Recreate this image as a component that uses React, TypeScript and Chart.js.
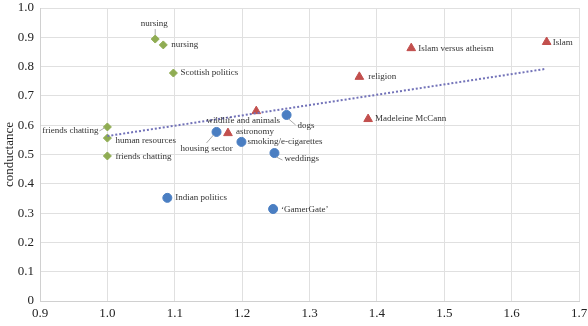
import React, { useEffect, useRef } from "react";
import { Chart, registerables } from "chart.js";

Chart.register(...registerables);

const diamondLabels = ["nursing", "nursing", "Scottish politics", "friends chatting", "human resources", "friends chatting"];
const diamondX = [1.071, 1.083, 1.098, 1.0, 1.0, 1.0];
const diamondY = [0.894, 0.874, 0.778, 0.594, 0.556, 0.495];

const circleLabels = ["dogs", "housing sector", "smoking/e-cigarettes", "weddings", "Indian politics", "\u2018GamerGate\u2019"];
const circleX = [1.266, 1.162, 1.199, 1.248, 1.089, 1.246];
const circleY = [0.635, 0.577, 0.543, 0.505, 0.352, 0.314];

const triangleLabels = ["wildlife and animals", "astronomy", "religion", "Madeleine McCann", "Islam versus atheism", "Islam"];
const triangleX = [1.221, 1.179, 1.374, 1.387, 1.451, 1.652];
const triangleY = [0.648, 0.573, 0.765, 0.621, 0.863, 0.884];

const trendX = [1.0, 1.65];
const trendY = [0.563, 0.792];

// label placement styles: [dx, dy, align, leader?]
type Place = { dx: number; dy: number; align: CanvasTextAlign; leader?: [number, number, number, number] };
const diamondPlace: Place[] = [
  { dx: -1, dy: -15, align: "center", leader: [0, -4, 0, -10] },
  { dx: 8, dy: 0, align: "left" },
  { dx: 7, dy: 0, align: "left" },
  { dx: -9, dy: 4, align: "right", leader: [-3, 1, -8, 4] },
  { dx: 8, dy: 3, align: "left" },
  { dx: 8, dy: 1, align: "left" },
];
const circlePlace: Place[] = [
  { dx: 11, dy: 11, align: "left", leader: [2, 4, 9, 10] },
  { dx: -10, dy: 17, align: "center", leader: [-3, 3, -10, 11] },
  { dx: 6, dy: 0, align: "left" },
  { dx: 10, dy: 6, align: "left", leader: [2, 4, 8, 7] },
  { dx: 8, dy: 0, align: "left" },
  { dx: 8, dy: 1, align: "left" },
];
const trianglePlace: Place[] = [
  { dx: -13, dy: 10, align: "center" },
  { dx: 8, dy: -1, align: "left" },
  { dx: 9, dy: 0, align: "left" },
  { dx: 7, dy: 0, align: "left" },
  { dx: 7, dy: 0, align: "left" },
  { dx: 6, dy: 1, align: "left" },
];

const labelSets = [
  { ds: 1, labels: diamondLabels, place: diamondPlace },
  { ds: 2, labels: circleLabels, place: circlePlace },
  { ds: 3, labels: triangleLabels, place: trianglePlace },
];

const yTitle = "conductance";
const serif = "'Liberation Serif', 'Times New Roman', serif";

const toPts = (xs: number[], ys: number[]) => xs.map((x, i) => ({ x, y: ys[i] }));

const labelPlugin = {
  id: "pointLabels",
  afterDatasetsDraw(chart: any) {
    const ctx = chart.ctx;
    ctx.save();
    ctx.font = `9px ${serif}`;
    ctx.fillStyle = "#333";
    ctx.textBaseline = "middle";
    ctx.strokeStyle = "#aaaaaa";
    ctx.lineWidth = 1;
    for (const set of labelSets) {
      const meta = chart.getDatasetMeta(set.ds);
      meta.data.forEach((el: any, i: number) => {
        const p = set.place[i];
        if (p.leader) {
          ctx.beginPath();
          ctx.moveTo(el.x + p.leader[0], el.y + p.leader[1]);
          ctx.lineTo(el.x + p.leader[2], el.y + p.leader[3]);
          ctx.stroke();
        }
        ctx.textAlign = p.align;
        ctx.fillText(set.labels[i], el.x + p.dx, el.y + p.dy);
      });
    }
    // y axis title
    const area = chart.chartArea;
    ctx.translate(10, (area.top + area.bottom) / 2);
    ctx.rotate(-Math.PI / 2);
    ctx.font = `13px ${serif}`;
    ctx.fillStyle = "#222";
    ctx.textAlign = "center";
    ctx.fillText(yTitle, 0, 0);
    ctx.restore();
  },
};

const zeroPad = (s: any) => {
  s.paddingTop = 0;
  s.paddingBottom = 0;
  s.paddingLeft = 0;
  s.paddingRight = 0;
};

export default function App() {
  const ref = useRef<HTMLCanvasElement>(null);
  useEffect(() => {
    if (!ref.current) return;
    const chart = new Chart(ref.current, {
      type: "scatter",
      data: {
        datasets: [
          {
            type: "line",
            data: toPts(trendX, trendY),
            borderColor: "#7272b8",
            borderWidth: 2,
            borderDash: [2, 2],
            pointRadius: 0,
            fill: false,
          } as any,
          {
            data: toPts(diamondX, diamondY),
            pointStyle: "rectRot",
            pointRadius: 4,
            backgroundColor: "#8fac52",
            borderColor: "#8fac52",
          },
          {
            data: toPts(circleX, circleY),
            pointStyle: "circle",
            pointRadius: 4.5,
            backgroundColor: "#4a7ec2",
            borderColor: "#4a7ec2",
          },
          {
            data: toPts(triangleX, triangleY),
            pointStyle: "triangle",
            pointRadius: 5,
            backgroundColor: "#c24f4d",
            borderColor: "#c24f4d",
          },
        ],
      },
      options: {
        animation: false,
        responsive: false,
        maintainAspectRatio: false,
        layout: { padding: { top: 8, right: 9, left: 0, bottom: 0 } },
        plugins: { legend: { display: false }, tooltip: { enabled: false } },
        scales: {
          x: {
            type: "linear",
            min: 0.9,
            max: 1.7,
            ticks: {
              stepSize: 0.1,
              color: "#222",
              font: { family: serif, size: 13 },
              padding: 5,
              maxRotation: 0,
              callback: (v: any) => Number(v).toFixed(1),
            },
            grid: { color: "#e0e0e0", drawTicks: false },
            border: { color: "#d0d0d0" },
            afterFit: (s: any) => { s.height = 25; zeroPad(s); },
          },
          y: {
            min: 0,
            max: 1.0,
            ticks: {
              stepSize: 0.1,
              color: "#222",
              font: { family: serif, size: 13 },
              padding: 6,
              callback: (v: any) => (Number(v) === 0 ? "0" : Number(v).toFixed(1)),
            },
            grid: { color: "#e0e0e0", drawTicks: false },
            border: { color: "#d0d0d0" },
            afterFit: (s: any) => { s.width = 40; zeroPad(s); },
          },
        },
      },
      plugins: [labelPlugin],
    });
    return () => chart.destroy();
  }, []);
  return (
    <div style={{ position: "fixed", left: 0, top: 0, width: 588, height: 326, background: "#fff" }}>
      <canvas ref={ref} width={588} height={326} style={{ width: 588, height: 326 }} />
    </div>
  );
}
